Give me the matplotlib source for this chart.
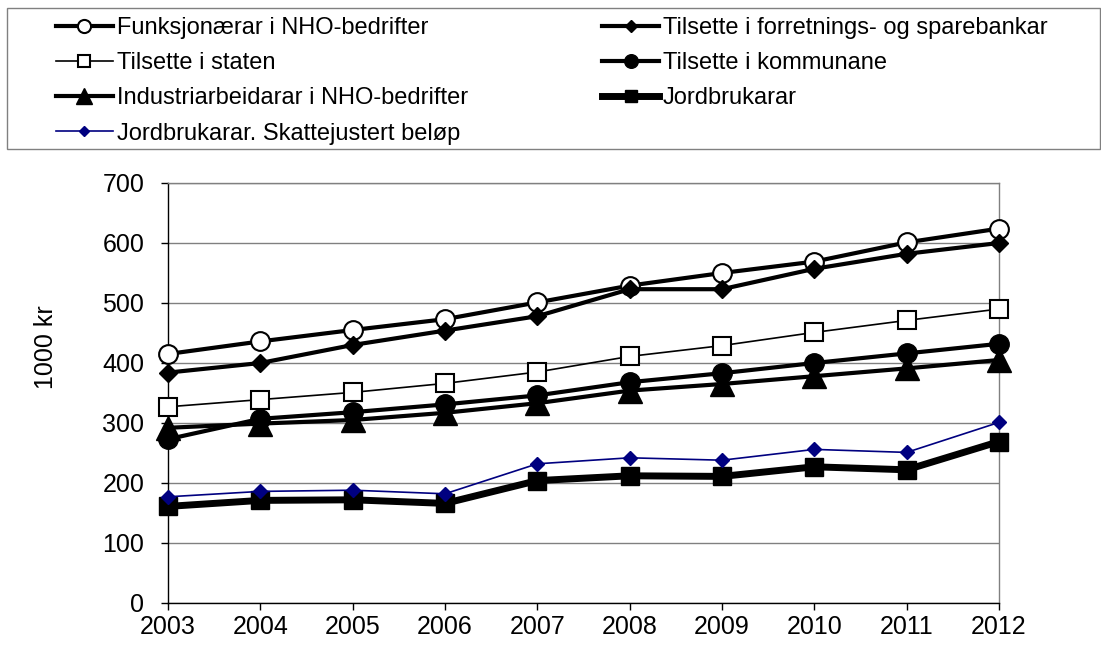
import matplotlib
matplotlib.use("Agg")
import matplotlib.pyplot as plt
from matplotlib.patches import Rectangle

plt.rcParams['font.family'] = ['Liberation Sans', 'DejaVu Sans']

years = [2003, 2004, 2005, 2006, 2007, 2008, 2009, 2010, 2011, 2012]

funksjonaerar = [415, 436, 455, 473, 501, 529, 550, 569, 601, 624]
forretningsbank = [384, 400, 430, 454, 478, 523, 523, 557, 582, 600]
staten = [327, 339, 351, 366, 385, 411, 429, 451, 471, 490]
kommunane = [273, 307, 318, 331, 346, 368, 383, 400, 416, 432]
industri = [292, 299, 305, 317, 333, 354, 365, 378, 391, 405]
jordbruk = [161, 171, 172, 166, 204, 212, 211, 227, 222, 269]
jordbruk_skatt = [177, 186, 188, 182, 232, 242, 238, 256, 251, 301]

labels = [
    "Funksjonærar i NHO-bedrifter",
    "Tilsette i forretnings- og sparebankar",
    "Tilsette i staten",
    "Tilsette i kommunane",
    "Industriarbeidarar i NHO-bedrifter",
    "Jordbrukarar",
    "Jordbrukarar. Skattejustert beløp",
]

W, H = 1101, 650
fig = plt.figure(figsize=(W / 100, H / 100), dpi=100)
ax = fig.add_axes([168 / W, 1 - 603 / H, (999 - 168) / W, (603 - 183) / H])

h = {}
h[0], = ax.plot(years, funksjonaerar, color='black', lw=3, marker='o', ms=13.5,
                mfc='white', mec='black', mew=1.5, clip_on=False, zorder=3)
h[1], = ax.plot(years, forretningsbank, color='black', lw=3, marker='D', ms=9,
                mfc='black', mec='black', clip_on=False, zorder=3)
h[2], = ax.plot(years, staten, color='black', lw=1.2, marker='s', ms=13,
                mfc='white', mec='black', mew=1.5, clip_on=False, zorder=3)
h[3], = ax.plot(years, kommunane, color='black', lw=3, marker='o', ms=14,
                mfc='black', mec='black', clip_on=False, zorder=3)
h[4], = ax.plot(years, industri, color='black', lw=3, marker='^', ms=17,
                mfc='black', mec='black', clip_on=False, zorder=3)
h[5], = ax.plot(years, jordbruk, color='black', lw=5, marker='s', ms=13,
                mfc='black', mec='black', clip_on=False, zorder=3)
h[6], = ax.plot(years, jordbruk_skatt, color='#000080', lw=1.2, marker='D', ms=7,
                mfc='#000080', mec='#000080', clip_on=False, zorder=4)

ax.set_xlim(2003, 2012)
ax.set_ylim(0, 700)
ax.set_yticks(range(0, 701, 100))
ax.set_xticks(years)
ax.tick_params(axis='both', labelsize=18, direction='out', length=5, width=1, colors='black')
ax.tick_params(axis='y', pad=12)
ax.tick_params(axis='x', pad=4)
ax.grid(axis='y', color='#808080', lw=1)
ax.set_axisbelow(True)
for s in ['top', 'right']:
    ax.spines[s].set_color('#808080')
    ax.spines[s].set_linewidth(1)
for s in ['left', 'bottom']:
    ax.spines[s].set_color('black')
    ax.spines[s].set_linewidth(1)
fig.text(46 / W, 1 - 347 / H, "1000 kr", rotation=90, ha='center', va='center', fontsize=18)

# Legend box
fig.patches.append(Rectangle((7 / W, 1 - 149 / H), (1100 - 7) / W, (149 - 8) / H,
                             transform=fig.transFigure, fill=False, ec='#808080', lw=1))
order = [0, 2, 4, 6, 1, 3, 5]
fig.legend([h[i] for i in order], [labels[i] for i in order], ncol=2,
           loc='upper left', bbox_to_anchor=(56 / W, 1 - 17 / H),
           frameon=False, fontsize=17, handlelength=2.4, handletextpad=0.17,
           columnspacing=5.7, labelspacing=0.56, markerscale=0.7,
           borderaxespad=0, borderpad=0)

fig.savefig("out.png", dpi=100)
